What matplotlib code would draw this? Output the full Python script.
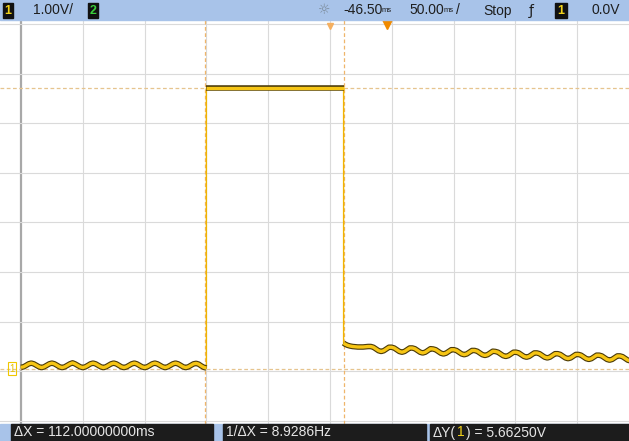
import matplotlib
matplotlib.use("Agg")
import matplotlib.pyplot as plt
from matplotlib.patches import Rectangle

plt.rcParams['font.family'] = ['Liberation Sans Narrow', 'Liberation Sans', 'DejaVu Sans']

# scope settings: 50 ms/div, 1 V/div, time 0 = centre of the screen
ms_per_div = 50
volt_per_div = 1.0
volt_centre = 2.95

# trace before the pulse (ms, V)
left_t = [-250.0, -247.9, -245.8, -243.8, -241.7, -239.6, -237.5, -235.4,
          -233.3, -231.3, -229.2, -227.1, -225.0, -222.9, -220.8, -218.8,
          -216.7, -214.6, -212.5, -210.4, -208.3, -206.3, -204.2, -202.1,
          -200.0, -197.9, -195.8, -193.8, -191.7, -189.6, -187.5, -185.4,
          -183.3, -181.3, -179.2, -177.1, -175.0, -172.9, -170.8, -168.8,
          -166.7, -164.6, -162.5, -160.4, -158.3, -156.3, -154.2, -152.1,
          -150.0, -147.9, -145.8, -143.8, -141.7, -139.6, -137.5, -135.4,
          -133.3, -131.3, -129.2, -127.1, -125.0, -122.9, -120.8, -118.8,
          -116.7, -114.6, -112.5, -110.4, -108.3, -106.3, -104.2, -102.1, -100.0]
left_v = [0.03, 0.04, 0.07, 0.10, 0.115, 0.10, 0.07, 0.04,
          0.025, 0.04, 0.07, 0.10, 0.115, 0.10, 0.07, 0.04,
          0.025, 0.04, 0.07, 0.10, 0.12, 0.10, 0.07, 0.04,
          0.025, 0.04, 0.07, 0.10, 0.115, 0.10, 0.07, 0.04,
          0.025, 0.04, 0.07, 0.10, 0.115, 0.10, 0.07, 0.04,
          0.025, 0.04, 0.07, 0.10, 0.115, 0.10, 0.07, 0.04,
          0.025, 0.04, 0.07, 0.10, 0.115, 0.10, 0.07, 0.04,
          0.025, 0.04, 0.07, 0.10, 0.115, 0.10, 0.07, 0.04,
          0.025, 0.04, 0.07, 0.10, 0.11, 0.095, 0.06, 0.03, 0.015]

# top of the pulse
top_t = [-100.0, 11.0]
top_v = [5.66, 5.66]

# trace after the pulse
right_t = [11.0, 12.0, 14.1, 16.2, 18.3, 20.4, 22.5, 24.6, 26.7, 28.8, 30.9,
           33.0, 35.1, 37.2, 39.3, 41.4, 43.5, 45.6, 47.7,
           49.8, 51.9, 54.0, 56.1, 58.2, 60.3, 62.4, 64.5,
           66.6, 68.7, 70.8, 72.9, 75.0, 77.1, 79.2, 81.3,
           83.4, 85.5, 87.6, 89.7, 91.8, 93.9, 96.0, 98.1,
           100.2, 102.3, 104.4, 106.5, 108.6, 110.7, 112.8, 114.9,
           117.0, 119.1, 121.2, 123.3, 125.4, 127.5, 129.6, 131.7,
           133.8, 135.9, 138.0, 140.1, 142.2, 144.3, 146.4, 148.5,
           150.6, 152.7, 154.8, 156.9, 159.0, 161.1, 163.2, 165.3,
           167.4, 169.5, 171.6, 173.7, 175.8, 177.9, 180.0, 182.1,
           184.2, 186.3, 188.4, 190.5, 192.6, 194.7, 196.8, 198.9,
           201.0, 203.1, 205.2, 207.3, 209.4, 211.5, 213.6, 215.7,
           217.8, 219.9, 222.0, 224.1, 226.2, 228.3, 230.4, 232.5,
           234.6, 236.7, 238.8, 240.9, 243.0]
right_v = [0.52, 0.50, 0.475, 0.46, 0.45, 0.445, 0.44, 0.44, 0.44, 0.445, 0.45,
           0.45, 0.435, 0.40, 0.365, 0.35, 0.365, 0.40, 0.435,
           0.435, 0.42, 0.385, 0.35, 0.335, 0.35, 0.385, 0.42,
           0.42, 0.405, 0.37, 0.335, 0.32, 0.335, 0.37, 0.405,
           0.40, 0.385, 0.35, 0.315, 0.30, 0.315, 0.35, 0.385,
           0.385, 0.37, 0.335, 0.30, 0.285, 0.30, 0.335, 0.37,
           0.37, 0.355, 0.32, 0.285, 0.27, 0.285, 0.32, 0.355,
           0.35, 0.335, 0.30, 0.265, 0.25, 0.265, 0.30, 0.335,
           0.335, 0.32, 0.285, 0.25, 0.235, 0.25, 0.285, 0.32,
           0.32, 0.305, 0.27, 0.235, 0.22, 0.235, 0.27, 0.305,
           0.305, 0.29, 0.255, 0.22, 0.205, 0.22, 0.255, 0.29,
           0.29, 0.275, 0.24, 0.205, 0.19, 0.205, 0.24, 0.275,
           0.275, 0.26, 0.225, 0.19, 0.175, 0.19, 0.225, 0.26,
           0.26, 0.245, 0.21, 0.175, 0.16]

cursor_t = [-101, 11]
cursor_v = [0.0, 5.6625]
trigger_t = 46.5

fig = plt.figure(figsize=(6.29, 4.41), dpi=100)
ax = fig.add_axes([0, 17 / 441, 1, 404 / 441])
ax.set_xlim(-330 / 61.8 * ms_per_div, 299 / 61.8 * ms_per_div)
ax.set_ylim(volt_centre - 201.5 / 49.6, volt_centre + 202.5 / 49.6)
ax.set_facecolor('white')
for s in ax.spines.values():
    s.set_visible(False)
ax.set_xticks([])
ax.set_yticks([])

# graticule
for k in range(-5, 6):
    t = k * ms_per_div
    if k == -5:
        ax.axvline(t, color='#a8a8a8', lw=1.6, zorder=1)
    else:
        ax.axvline(t, color='#dadada', lw=0.8, zorder=1)
for k in range(-4, 5):
    ax.axhline(volt_centre + k * volt_per_div, color='#dadada', lw=0.8, zorder=1)

# cursors
for t in cursor_t:
    ax.axvline(t, color='#efb56a', lw=0.9, ls=(0, (3, 2)), zorder=2)
for v in cursor_v:
    ax.axhline(v, color='#e6c48e', lw=0.9, ls=(0, (3, 2)), zorder=2)

# trace
full_t = left_t + top_t + right_t
full_v = left_v + top_v + right_v
ax.plot(full_t, full_v, color='#f0b400', lw=1.0, zorder=3)
for seg_t, seg_v in [(left_t, left_v), (top_t, top_v), (right_t, right_v)]:
    ax.plot(seg_t, seg_v, color='#4a3a08', lw=4.0, solid_capstyle='butt',
            solid_joinstyle='round', zorder=4)
    ax.plot(seg_t, seg_v, color='#f6c514', lw=2.4, solid_capstyle='butt',
            solid_joinstyle='round', zorder=5)

# trigger position and time reference markers
ax.plot([trigger_t], [0.99], transform=ax.get_xaxis_transform(), marker='v',
        color='#f08a00', ms=7, clip_on=False, zorder=6)
ax.plot([0], [0.985], transform=ax.get_xaxis_transform(), marker='v',
        color='#f5b060', ms=4, clip_on=False, zorder=6)
# ground marker of channel 1
ax.text(0.019, 0.0, '1', transform=ax.get_yaxis_transform(), color='#e8c000',
        fontsize=7, ha='center', va='center', zorder=6,
        bbox=dict(boxstyle='square,pad=0.15', fc='none', ec='#f0c800', lw=0.8))

# status bars (pixel coordinates)
ov = fig.add_axes([0, 0, 1, 1], zorder=5)
ov.set_xlim(0, 629)
ov.set_ylim(441, 0)
ov.axis('off')
ov.patch.set_alpha(0)

ov.add_patch(Rectangle((0, 0), 629, 20, color='#a8c3e9'))
ov.add_patch(Rectangle((3, 3), 10, 15, color='#111111'))
ov.text(8, 10.5, '1', color='#f2d21a', fontsize=9, fontweight='bold', ha='center', va='center')
ov.text(33, 10.5, '1.00V/', color='#1e1e1e', fontsize=10, va='center')
ov.add_patch(Rectangle((88, 3), 10, 15, color='#111111'))
ov.text(93, 10.5, '2', color='#3ccf3c', fontsize=9, fontweight='bold', ha='center', va='center')
ov.text(324, 10.5, '☼', color='#7a8a9a', fontsize=10, ha='center', va='center',
        family='DejaVu Sans')
ov.text(343, 10.5, '-46.50', color='#1e1e1e', fontsize=10, va='center')
ov.text(382, 11, 'ms', color='#1e1e1e', fontsize=5.5, va='center')
ov.text(409, 10.5, '50.00', color='#1e1e1e', fontsize=10, va='center')
ov.text(444, 11, 'ms', color='#1e1e1e', fontsize=5.5, va='center')
ov.text(456, 10.5, '/', color='#1e1e1e', fontsize=10, va='center')
ov.text(483, 10.5, 'Stop', color='#1e1e1e', fontsize=10, va='center')
ov.text(531, 10.5, 'ƒ', color='#1e1e1e', fontsize=10, ha='center', va='center',
        family='DejaVu Sans')
ov.add_patch(Rectangle((555, 3), 12, 15, color='#111111'))
ov.text(561, 10.5, '1', color='#f2d21a', fontsize=9, fontweight='bold', ha='center', va='center')
ov.text(592, 10.5, '0.0V', color='#1e1e1e', fontsize=10, va='center')

ov.add_patch(Rectangle((0, 424), 629, 17, color='#a8c3e9'))
ov.add_patch(Rectangle((11, 424), 202, 17, color='#1c1c1c'))
ov.add_patch(Rectangle((223, 424), 203, 17, color='#1c1c1c'))
ov.add_patch(Rectangle((430, 424), 199, 17, color='#1c1c1c'))
ov.text(14, 432.5, 'ΔX = 112.00000000ms', color='#e6e6e6', fontsize=10, va='center')
ov.text(226, 432.5, '1/ΔX = 8.9286Hz', color='#e6e6e6', fontsize=10, va='center')
t1 = ov.text(433, 432.5, 'ΔY(', color='#e6e6e6', fontsize=10, va='center')
fig.canvas.draw()
r = fig.canvas.get_renderer()
bb = t1.get_window_extent(r)
x1 = ov.transData.inverted().transform((bb.x1, bb.y0))[0]
t2 = ov.text(x1 + 1, 432.5, '1', color='#f2d21a', fontsize=10, va='center')
bb2 = t2.get_window_extent(r)
x2 = ov.transData.inverted().transform((bb2.x1, bb2.y0))[0]
ov.text(x2 + 1, 432.5, ') = 5.66250V', color='#e6e6e6', fontsize=10, va='center')

fig.savefig('out.png', dpi=100)
